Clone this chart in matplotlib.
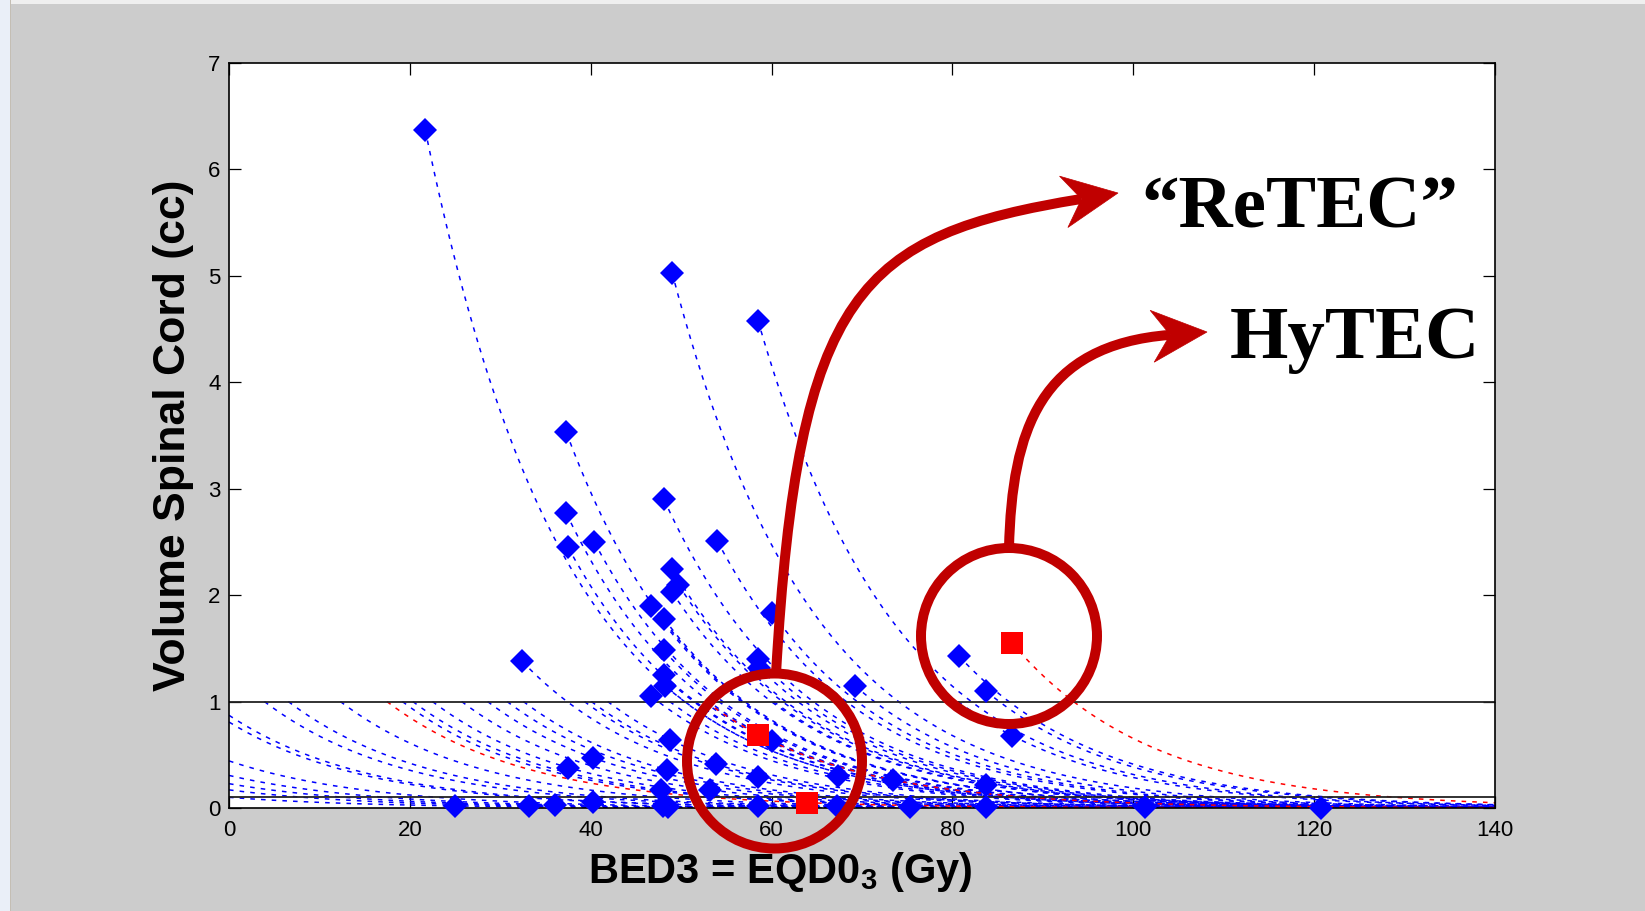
import numpy as np
import matplotlib.pyplot as plt
from matplotlib.patches import Ellipse, Polygon, PathPatch, Rectangle
from matplotlib.path import Path

plt.rcParams['mathtext.fontset'] = 'custom'
plt.rcParams['mathtext.rm'] = 'Liberation Sans:bold'

# Patient points: BED3 (Gy) and spinal cord volume (cc)
bed_blue = [21.7, 49.0, 58.5, 37.3, 37.3, 37.5, 40.4, 48.1, 54.0, 49.0,
            49.7, 49.0, 46.7, 48.1, 60.1, 48.1, 58.5, 58.6, 32.4, 48.1,
            48.2, 46.7, 69.2, 80.7, 83.7, 86.6, 48.8, 40.3, 37.5, 53.9,
            48.4, 60.0, 58.5, 67.4, 73.4, 47.8, 53.2, 83.7, 25.0, 33.2,
            36.0, 40.3, 48.0, 48.5, 58.5, 67.2, 75.3, 83.7, 101.3, 120.8]
vol_blue = [6.37, 5.03, 4.58, 3.53, 2.77, 2.45, 2.50, 2.90, 2.51, 2.25,
            2.10, 2.03, 1.90, 1.78, 1.83, 1.48, 1.40, 1.32, 1.38, 1.25,
            1.15, 1.05, 1.15, 1.43, 1.10, 0.68, 0.64, 0.47, 0.38, 0.41,
            0.36, 0.63, 0.29, 0.30, 0.26, 0.17, 0.17, 0.22, 0.02, 0.02,
            0.03, 0.06, 0.02, 0.01, 0.02, 0.02, 0.01, 0.01, 0.005, 0.003]

# ReTEC (two) and HyTEC (one) reference points
bed_red = [58.5, 63.9, 86.6]
vol_red = [0.69, 0.05, 1.55]

decay_gy = 15.5      # e-folding dose of the iso-effect curves
vol_cap = 1.0        # low-volume curves are traced back up to this volume
limit_lines = [1.0, 0.1]

xticks = np.arange(0, 141, 20)
yticks = np.arange(0, 8, 1)

W, H = 1645, 911
fig = plt.figure(figsize=(W / 100, H / 100), dpi=100, facecolor='#CCCCCC')


def fx(x):
    return x / W


def fy(y):
    return 1 - y / H


# slide margin on the left and top
fig.add_artist(Rectangle((0, 0), fx(9.5), 1, transform=fig.transFigure,
                         color='#EAEFF8', lw=0, zorder=0))
fig.add_artist(Rectangle((fx(9.5), 0), fx(1.5), 1, transform=fig.transFigure,
                         color='#C4BEB4', lw=0, zorder=0))
fig.add_artist(Rectangle((fx(11), fy(4)), 1, fy(0) - fy(4), transform=fig.transFigure,
                         color='#EFEFEF', lw=0, zorder=0))

ax = fig.add_axes([fx(229), fy(808), fx(1495 - 229), (808 - 63) / H])
ax.set_facecolor('white')


def iso_curve(d, v):
    start = d if v >= vol_cap else max(0.0, d - decay_gy * np.log(vol_cap / v))
    x = np.linspace(start, 140, 400)
    return x, v * np.exp(-(x - d) / decay_gy)


for d, v in zip(bed_blue, vol_blue):
    x, y = iso_curve(d, v)
    ax.plot(x, y, color='#0000FF', lw=1.1, dashes=(3, 4), zorder=2)
for d, v in zip(bed_red, vol_red):
    x, y = iso_curve(d, v)
    ax.plot(x, y, color='#FF0000', lw=1.1, dashes=(3, 4), zorder=2.2)

for yl in limit_lines:
    ax.axhline(yl, color='#222222', lw=1.3, zorder=2.5)

ax.plot(bed_blue, vol_blue, 'D', color='#0000FF', ms=12.5, mew=0,
        clip_on=False, zorder=4)
ax.plot(bed_red, vol_red, 's', color='#FF0000', ms=16, mew=0,
        clip_on=False, zorder=5)

ax.set_xlim(0, 140)
ax.set_ylim(0, 7)
ax.set_xticks(xticks)
ax.set_yticks(yticks)
ax.tick_params(direction='in', top=True, right=True, length=8.5, width=0.9,
               labelsize=16, color='black')
ax.tick_params(axis='x', pad=9)
ax.tick_params(axis='y', pad=6)
for lab in ax.get_xticklabels() + ax.get_yticklabels():
    lab.set_family('Liberation Sans')
for s in ax.spines.values():
    s.set_linewidth(1.2)
    s.set_color('black')

fig.text(fx(173), fy(435), 'Volume Spinal Cord (cc)', rotation=90,
         ha='center', va='center', fontsize=32, fontweight='bold',
         family='Liberation Sans')
fig.text(fx(780), fy(883), 'BED3 = EQD0$_3$ (Gy)', ha='center', va='baseline',
         fontsize=30, fontweight='bold', family='Liberation Sans')

# callouts
ring = '#C00000'
for cx, cy, r in [(774.5, 761, 87.5), (1009, 636, 88)]:
    fig.add_artist(Ellipse((fx(cx), fy(cy)), 2 * r / W, 2 * r / H,
                           transform=fig.transFigure, fill=False,
                           ec=ring, lw=7.2, zorder=10))


def curved_arrow(p0, p1, p2, tip, length=55, half=26, notch=18):
    p2 = np.array(p2, float)
    tip = np.array(tip, float)
    d = tip - p2
    d /= np.hypot(*d)
    n = np.array([-d[1], d[0]])
    base = tip - length * d
    inner = tip - (length - notch) * d
    pts = [p0, p1, p2, inner]
    path = Path([(fx(x), fy(y)) for x, y in pts],
                [Path.MOVETO, Path.CURVE4, Path.CURVE4, Path.CURVE4])
    fig.add_artist(PathPatch(path, fill=False, ec=ring, lw=7.2,
                             transform=fig.transFigure, zorder=10,
                             capstyle='butt'))
    head = [tip, base + half * n, inner, base - half * n]
    fig.add_artist(Polygon([(fx(x), fy(y)) for x, y in head], closed=True,
                           fc=ring, ec=ring, lw=0.5,
                           transform=fig.transFigure, zorder=10))


curved_arrow((776, 674), (798, 290), (860, 235), (1118, 193))
curved_arrow((1009, 548), (1012, 430), (1040, 345), (1207, 332))

fig.text(fx(1141), fy(227), '\u201cReTEC\u201d', ha='left', va='baseline',
         fontsize=54, fontweight='bold', family='Liberation Serif', zorder=11)
fig.text(fx(1230), fy(358), 'HyTEC', ha='left', va='baseline',
         fontsize=54, fontweight='bold', family='Liberation Serif', zorder=11)

fig.savefig('out.png', dpi=100, facecolor=fig.get_facecolor())
